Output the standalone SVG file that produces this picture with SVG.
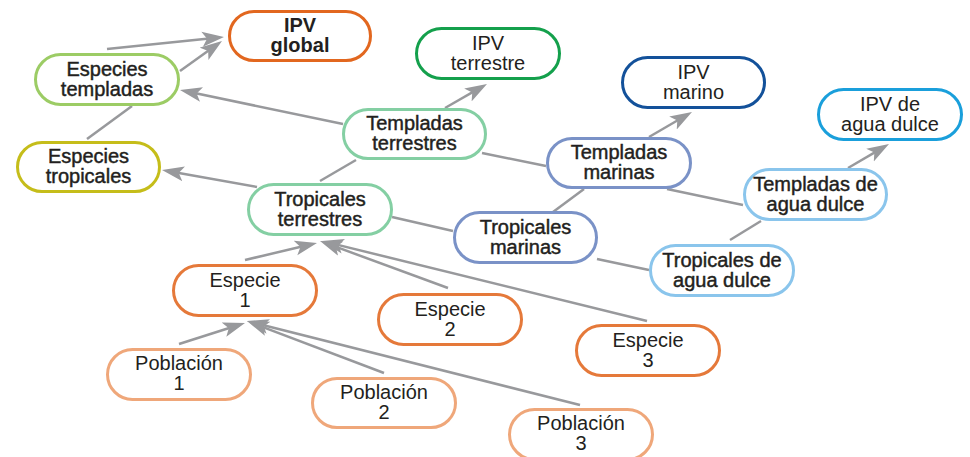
<svg xmlns="http://www.w3.org/2000/svg" width="970" height="457" viewBox="0 0 970 457">
<defs>
<marker id="ah" markerUnits="userSpaceOnUse" markerWidth="22" markerHeight="16" viewBox="0 0 22 16" refX="12" refY="8" orient="auto">
<path d="M22,8 L0,0.5 L5,8 L0,15.5 Z" fill="#98999c"/>
</marker>
</defs>
<style>
.n{fill:#fff;stroke-width:3}
.t{font-family:"Liberation Sans",Arial,Helvetica,sans-serif;font-size:20px;fill:#231f20;text-anchor:middle}
.m{stroke:#231f20;stroke-width:0.45}
.b{font-weight:bold}
.c{stroke:#98999c;stroke-width:2.5;fill:none}
.a{marker-end:url(#ah)}
.or{stroke:#e2671f}.lg{stroke:#9ccc65}.yl{stroke:#c5bd1a}.gr{stroke:#14a04c}.mt{stroke:#84cfa3}
.db{stroke:#13519a}.pb{stroke:#7a92c7}.cy{stroke:#1a9fdb}.lb{stroke:#8ac5ec}.sp{stroke:#e5793a}.po{stroke:#efa77a}
</style>
<rect width="970" height="457" fill="#fff"/>
<g id="connectors">
<line class="c a" x1="107" y1="49" x2="214.05" y2="38.02"/>
<line class="c a" x1="180" y1="71" x2="213.86" y2="46.81"/>
<line class="c" x1="87" y1="139" x2="132" y2="106"/>
<line class="c a" x1="343" y1="124" x2="189.79" y2="92.04"/>
<line class="c a" x1="257" y1="187" x2="171.84" y2="171.76"/>
<line class="c" x1="320" y1="181" x2="356" y2="160"/>
<line class="c a" x1="445" y1="108" x2="478.32" y2="88.96"/>
<line class="c" x1="482" y1="153" x2="546" y2="166"/>
<line class="c a" x1="649" y1="137" x2="683.35" y2="117.03"/>
<line class="c" x1="667" y1="189" x2="743" y2="205"/>
<line class="c a" x1="848" y1="168" x2="880.37" y2="149.05"/>
<line class="c" x1="730" y1="240" x2="761" y2="221"/>
<line class="c" x1="597" y1="259" x2="649" y2="270"/>
<line class="c" x1="553" y1="212" x2="584" y2="189"/>
<line class="c" x1="392" y1="217" x2="453" y2="231"/>
<line class="c a" x1="245" y1="260" x2="307.27" y2="245.3"/>
<line class="c a" x1="448" y1="288" x2="329.39" y2="244.45"/>
<line class="c a" x1="647" y1="321" x2="331.71" y2="243.39"/>
<line class="c a" x1="179" y1="344" x2="235.47" y2="326.03"/>
<line class="c a" x1="384" y1="373" x2="256.35" y2="324.55"/>
<line class="c a" x1="580" y1="405" x2="256.7" y2="323.45"/>
</g>
<g id="ipv-global"><rect class="n or" x="229.5" y="11.5" width="141" height="49" rx="24.5"/><text class="t b" x="300" y="32">IPV</text><text class="t b" x="300" y="52">global</text></g>
<g id="especies-templadas"><rect class="n lg" x="35.5" y="54.5" width="143" height="50" rx="25"/><text class="t m" x="107" y="76">Especies</text><text class="t m" x="107" y="96">templadas</text></g>
<g id="especies-tropicales"><rect class="n yl" x="17.5" y="142.5" width="142" height="49" rx="24.5"/><text class="t m" x="88.5" y="163">Especies</text><text class="t m" x="88.5" y="183">tropicales</text></g>
<g id="ipv-terrestre"><rect class="n gr" x="416.5" y="28.5" width="143" height="50" rx="25"/><text class="t" x="488" y="50">IPV</text><text class="t" x="488" y="70">terrestre</text></g>
<g id="templadas-terrestres"><rect class="n mt" x="343.5" y="109.5" width="142" height="49" rx="24.5"/><text class="t m" x="414.5" y="130">Templadas</text><text class="t m" x="414.5" y="150">terrestres</text></g>
<g id="ipv-marino"><rect class="n db" x="622.5" y="57.5" width="142" height="50" rx="25"/><text class="t" x="693.5" y="79">IPV</text><text class="t" x="693.5" y="99">marino</text></g>
<g id="ipv-agua-dulce"><rect class="n cy" x="818.5" y="89.5" width="143" height="50" rx="25"/><text class="t" x="890" y="111">IPV de</text><text class="t" x="890" y="131">agua dulce</text></g>
<g id="templadas-marinas"><rect class="n pb" x="547.5" y="138.5" width="143" height="49" rx="24.5"/><text class="t m" x="619" y="159">Templadas</text><text class="t m" x="619" y="179">marinas</text></g>
<g id="templadas-agua-dulce"><rect class="n lb" x="744.5" y="169.5" width="142" height="50" rx="25"/><text class="t m" x="815.5" y="191">Templadas de</text><text class="t m" x="815.5" y="211">agua dulce</text></g>
<g id="tropicales-agua-dulce"><rect class="n lb" x="650.5" y="245.5" width="143" height="50" rx="25"/><text class="t m" x="722" y="267">Tropicales de</text><text class="t m" x="722" y="287">agua dulce</text></g>
<g id="tropicales-terrestres"><rect class="n mt" x="248.5" y="184.5" width="143" height="50" rx="25"/><text class="t m" x="320" y="206">Tropicales</text><text class="t m" x="320" y="226">terrestres</text></g>
<g id="tropicales-marinas"><rect class="n pb" x="454.5" y="212.5" width="142" height="50" rx="25"/><text class="t m" x="525.5" y="234">Tropicales</text><text class="t m" x="525.5" y="254">marinas</text></g>
<g id="especie-1"><rect class="n sp" x="173.5" y="265.5" width="143" height="50" rx="25"/><text class="t" x="245" y="287">Especie</text><text class="t" x="245" y="307">1</text></g>
<g id="especie-2"><rect class="n sp" x="378.5" y="294.5" width="143" height="50" rx="25"/><text class="t" x="450" y="316">Especie</text><text class="t" x="450" y="336">2</text></g>
<g id="especie-3"><rect class="n sp" x="576.5" y="325.5" width="143" height="50" rx="25"/><text class="t" x="648" y="347">Especie</text><text class="t" x="648" y="367">3</text></g>
<g id="poblacion-1"><rect class="n po" x="107.5" y="349.5" width="143" height="50" rx="25"/><text class="t" x="179" y="370">Población</text><text class="t" x="179" y="390">1</text></g>
<g id="poblacion-2"><rect class="n po" x="312.5" y="378.5" width="143" height="49" rx="24.5"/><text class="t" x="384" y="399">Población</text><text class="t" x="384" y="419">2</text></g>
<g id="poblacion-3"><rect class="n po" x="509.5" y="409.5" width="143" height="50" rx="25"/><text class="t" x="581" y="430">Población</text><text class="t" x="581" y="450">3</text></g>
</svg>
